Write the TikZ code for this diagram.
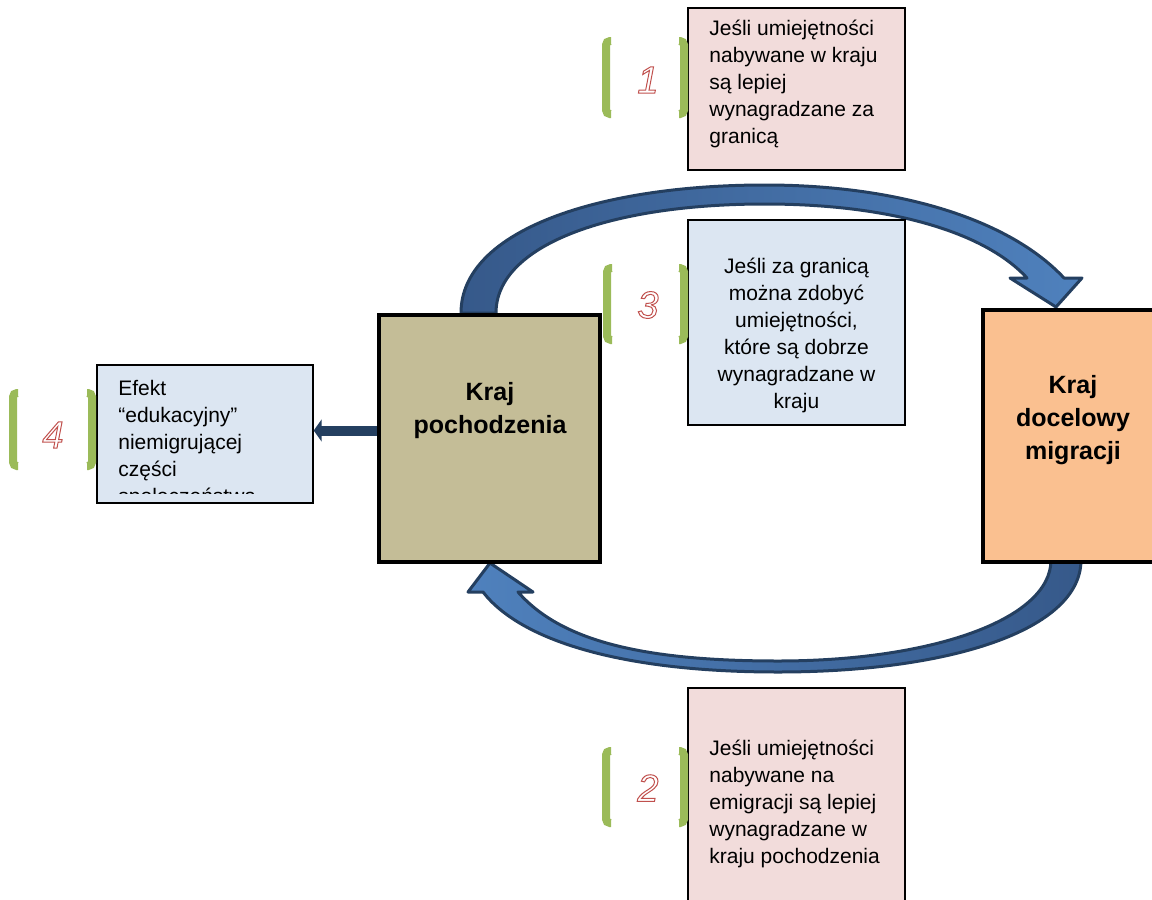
\documentclass[tikz,border=0pt]{standalone}
\usepackage{fontspec}
\setmainfont{Liberation Sans}
\usetikzlibrary{arrows.meta}
\definecolor{rozowy}{HTML}{F2DCDB}
\definecolor{niebieski}{HTML}{DCE6F2}
\definecolor{khaki}{HTML}{C4BD97}
\definecolor{pomaranczowy}{HTML}{FAC090}
\definecolor{zielony}{HTML}{9BBB59}
\definecolor{czerwony}{HTML}{C0504D}
\definecolor{granat}{HTML}{243F60}
\definecolor{ciemnyniebieski}{HTML}{36598A}
\definecolor{jasnyniebieski}{HTML}{4F81BD}
\tikzstyle{ramka} = [rectangle, draw, line width=0.7pt, inner sep=0pt]
\tikzstyle{kraj} = [rectangle, draw, line width=2pt, inner sep=0pt]
\tikzstyle{opis} = [inner sep=0pt, font=\fontsize{10.5}{13.5}\selectfont]
\tikzstyle{nazwa} = [inner sep=0pt, align=center,
    font=\fontsize{12.5}{16.5}\selectfont\bfseries]
\tikzstyle{numer} = [inner sep=0pt, text=czerwony,
    font=\fontsize{19}{19}\selectfont\itshape]
\tikzstyle{nawias} = [draw=zielony, line width=4pt, rounded corners=2pt]
\tikzstyle{luk} = [draw=granat, line width=1.5pt, line join=round]
\newcommand\obrys[1]{\special{pdf:literal direct 0.5 w 1 Tr}#1\special{pdf:literal direct 0 Tr}}

\begin{document}
\begin{tikzpicture}[x=0.5pt, y=-0.5pt]
  \useasboundingbox (0,0) rectangle (1152,900);

  % wygiete strzalki
  \path[luk, left color=ciemnyniebieski, right color=jasnyniebieski]
    (461,313) .. controls (461,230) and (600,185) .. (765,185)
    .. controls (900,185) and (1010,220) .. (1064,278)
    -- (1082,278) -- (1056,307) -- (1010,278) -- (1027,278)
    .. controls (985,232) and (890,204) .. (765,204)
    .. controls (610,204) and (496,245) .. (496,313) -- cycle;
  \path[luk, left color=jasnyniebieski, right color=ciemnyniebieski]
    (1081,560) .. controls (1081,630) and (950,672) .. (778,672)
    .. controls (620,672) and (520,640) .. (483,592)
    -- (468,592) -- (490,563) -- (533,592) -- (518,592)
    .. controls (560,640) and (640,661) .. (778,661)
    .. controls (930,661) and (1051,620) .. (1051,560) -- cycle;

  % kraje
  \node[kraj, fill=khaki, minimum width=110.5pt, minimum height=123.5pt] (kp) at (489.5,438.5) {};
  \node[nazwa] (tkp) at (490,411) {Kraj\\pochodzenia};
  \node[kraj, fill=pomaranczowy, minimum width=90pt, minimum height=126pt] (kd) at (1073,436) {};
  \node[nazwa] (tkd) at (1073,420) {Kraj\\docelowy\\migracji};

  % opisy
  \node[ramka, fill=rozowy, minimum width=108.5pt, minimum height=81pt] (j1) at (796.5,89) {};
  \node[opis, anchor=west, align=left] (t1) at (709,84)
    {Jeśli umiejętności\\nabywane w kraju\\są lepiej\\wynagradzane za\\granicą};
  \node[ramka, fill=niebieski, minimum width=108.5pt, minimum height=102.5pt] (j3) at (796.5,322.5) {};
  \node[opis, align=center] (t3) at (796.5,335)
    {Jeśli za granicą\\można zdobyć\\umiejętności,\\które są dobrze\\wynagradzane w\\kraju};
  \node[ramka, fill=rozowy, minimum width=108.5pt, minimum height=108.5pt] (j2) at (796.5,796.5) {};
  \node[opis, anchor=west, align=left] (t2) at (709,804)
    {Jeśli umiejętności\\nabywane na\\emigracji są lepiej\\wynagradzane w\\kraju pochodzenia};
  \node[ramka, fill=niebieski, minimum width=108pt, minimum height=69pt] (ef) at (205,434) {};
  \begin{scope}
    \clip (ef.north west) rectangle ([yshift=5pt]ef.south east);
    \node[opis, anchor=west, align=left] (t4) at (118,444)
      {Efekt\\“edukacyjny”\\niemigrującej\\części\\społeczeństwa};
  \end{scope}

  \draw[granat, line width=5pt, -{Triangle[length=4pt,width=11pt]}]
    ([yshift=4pt]kp.west) -- ([yshift=4pt]kp.west -| ef.east);

  % nawiasy z numerami
  \draw[nawias] (611,41) -- (606,41) -- (606,114) -- (611,114);
  \draw[nawias] (679,41) -- (684,41) -- (684,114) -- (679,114);
  \node[numer] (n1) at (648,80) {\obrys{1}};
  \draw[nawias] (612,268) -- (607,268) -- (607,340) -- (612,340);
  \draw[nawias] (679,268) -- (684,268) -- (684,340) -- (679,340);
  \node[numer] (n3) at (648,305) {\obrys{3}};
  \draw[nawias] (18,393) -- (13,393) -- (13,466) -- (18,466);
  \draw[nawias] (87,393) -- (92,393) -- (92,466) -- (87,466);
  \node[numer] (n4) at (53,435) {\obrys{4}};
  \draw[nawias] (611,751) -- (606,751) -- (606,823) -- (611,823);
  \draw[nawias] (679,751) -- (684,751) -- (684,823) -- (679,823);
  \node[numer] (n2) at (648,788) {\obrys{2}};
\end{tikzpicture}
\end{document}
